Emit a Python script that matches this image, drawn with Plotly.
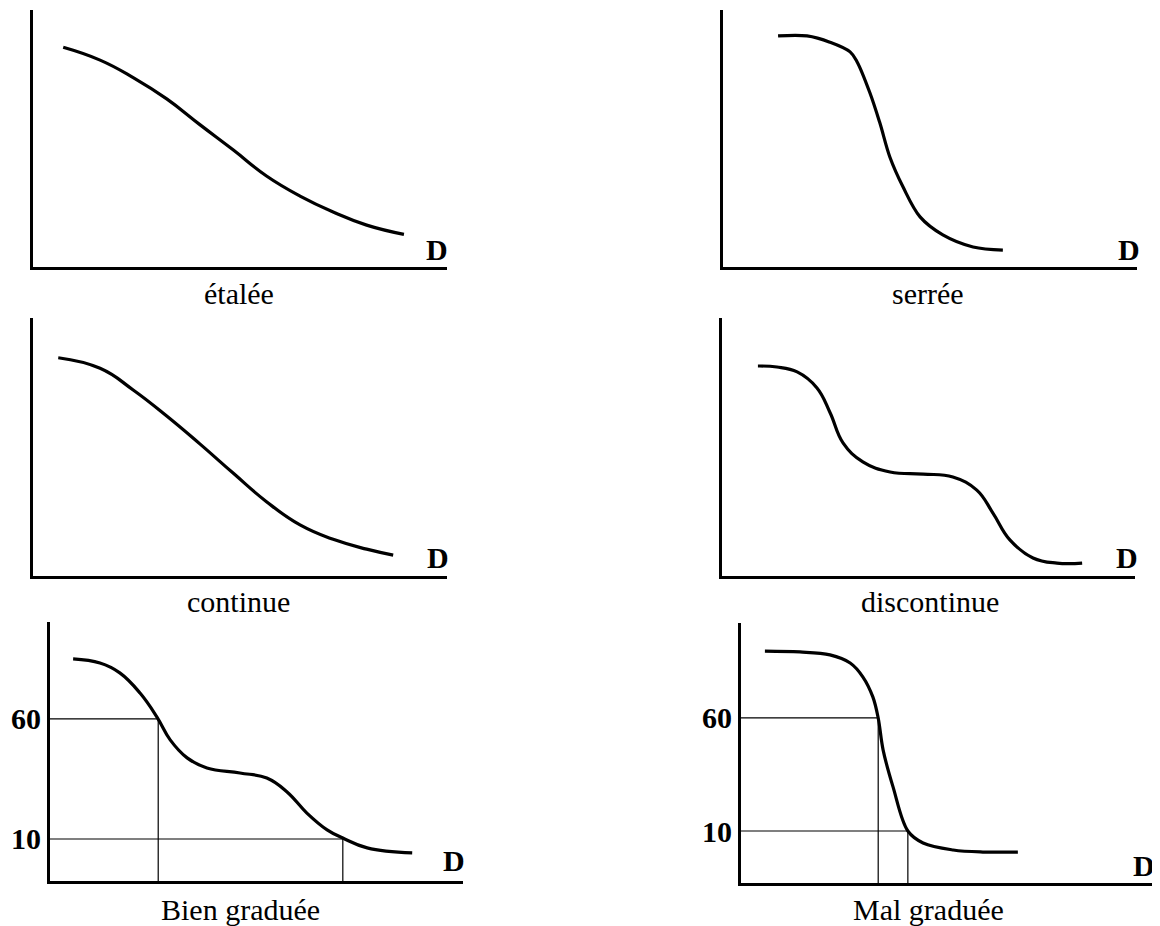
import plotly.graph_objects as go

W, H = 1160, 926
OFF = 8  # page body margin of the HTML page

# ---------------- data ----------------
# x: diameter D (arbitrary units 0..100 along the axis), y: % passing
etalee_x = [7.3, 16.2, 24.2, 32.3, 40.3, 48.4, 56.4, 64.5, 72.5, 80.6, 89.6]
etalee_y = [85.5, 80.5, 73.7, 65.4, 55.4, 45.5, 35.4, 27.6, 21.4, 16.3, 12.7]

serree_x = [13.3, 20.3, 25.8, 30.7, 32.4, 35.5, 37.9, 40.3, 43.5, 47.6, 53.1, 60.4, 67.6]
serree_y = [89.9, 89.9, 87.5, 83.7, 79.8, 67.7, 56.0, 42.8, 31.1, 19.5, 12.5, 7.8, 6.6]

continue_x = [6.1, 16.2, 24.2, 32.3, 40.3, 48.4, 56.4, 64.5, 72.5, 80.6, 87.0]
continue_y = [84.6, 80.5, 72.1, 62.0, 51.2, 39.8, 28.8, 19.8, 14.2, 10.4, 8.1]

discont_x = [8.7, 13.3, 18.2, 23.0, 26.2, 29.3, 34.1, 40.7, 48.7, 55.9, 61.7, 65.6, 69.7, 75.3, 81.1, 87.2]
discont_y = [81.4, 81.0, 79.1, 72.9, 63.2, 51.6, 44.2, 40.3, 39.5, 38.4, 33.3, 24.4, 14.0, 7.0, 5.0, 5.0]

bien_x = [5.6, 12.1, 16.9, 21.8, 25.9, 29.1, 33.2, 38.0, 46.0, 52.5, 57.4, 62.2, 67.1, 70.9, 76.8, 87.7]
bien_y = [85.0, 83.3, 79.2, 70.8, 60.8, 51.3, 43.8, 39.6, 37.5, 35.4, 29.6, 20.8, 13.8, 10.4, 6.3, 4.2]
bien_d60, bien_d10 = 26.2, 70.9

mal_x = [5.8, 14.3, 21.6, 26.5, 29.6, 32.0, 33.3, 34.5, 36.9, 40.5, 44.2, 51.5, 58.7, 67.2]
mal_y = [89.6, 89.2, 87.9, 84.3, 78.1, 69.3, 60.0, 45.8, 29.5, 10.0, 4.7, 1.6, 0.7, 0.7]
mal_d60, mal_d10 = 33.3, 40.5

tick_vals = [10, 60]
tick_text = ["10", "60"]

titles = ["étalée", "serrée", "continue", "discontinue", "Bien graduée", "Mal graduée"]
axis_label = "D"

# ---------------- layout helpers ----------------
# pixel boxes of each panel: (x_left, x_right, y_top, y_bottom)
boxes = [
    (33, 447, 10, 267),
    (723, 1137, 10, 267),
    (33, 447, 318, 576),
    (722, 1135, 318, 576),
    (50, 463, 622, 881),
    (741, 1153, 623, 883),
]
yranges = [[0, 100], [0, 100], [0, 100], [0, 100], [-7.5, 100.4], [-13.0, 102.0]]
smooth = [1.3, 1.0, 1.3, 1.2, 1.2, 1.0]
title_pos = [(239, 293), (928, 294), (238, 601), (930, 601), (240, 909), (928, 909)]
d_pos = [(437, 249), (1129, 249), (438, 557), (1127, 557), (454, 860), (1144, 865)]


def px(x):
    return (x - OFF) / W


def py(y):
    return 1 - (y - OFF) / H


curves = [
    (etalee_x, etalee_y),
    (serree_x, serree_y),
    (continue_x, continue_y),
    (discont_x, discont_y),
    (bien_x, bien_y),
    (mal_x, mal_y),
]

fig = go.Figure()
layout = dict(
    width=W, height=H, autosize=False,
    margin=dict(l=0, r=0, t=0, b=0),
    paper_bgcolor="white", plot_bgcolor="white",
    showlegend=False,
    annotations=[],
)

serif = "Liberation Serif, Times New Roman, serif"

for i, ((cx, cy), box, yr) in enumerate(zip(curves, boxes, yranges)):
    n = i + 1
    xa = "x" if n == 1 else f"x{n}"
    ya = "y" if n == 1 else f"y{n}"
    xl, xr, yt, yb = box
    has_ticks = i >= 4
    layout["xaxis" if n == 1 else f"xaxis{n}"] = dict(
        domain=[px(xl), px(xr)], range=[0, 100], anchor=ya,
        showline=True, linewidth=3, linecolor="black",
        showgrid=False, zeroline=False, showticklabels=False, ticks="",
        fixedrange=True,
    )
    yaxis = dict(
        domain=[py(yb), py(yt)], range=yr, anchor=xa,
        showline=True, linewidth=3, linecolor="black",
        showgrid=False, zeroline=False, ticks="",
        showticklabels=has_ticks, fixedrange=True,
    )
    if has_ticks:
        yaxis.update(tickvals=tick_vals, ticktext=[f"<b>{t}</b>" for t in tick_text],
                     tickfont=dict(family=serif, size=30, color="black"),
                     ticklabelstandoff=0)
    layout["yaxis" if n == 1 else f"yaxis{n}"] = yaxis

    # helper lines for D60 / D10
    if has_ticks:
        d60, d10 = (bien_d60, bien_d10) if i == 4 else (mal_d60, mal_d10)
        ymin = yr[0]
        for d, lvl in ((d60, 60), (d10, 10)):
            fig.add_trace(go.Scatter(
                x=[0, d, d], y=[lvl, lvl, ymin], mode="lines",
                line=dict(color="black", width=1.2),
                xaxis=xa, yaxis=ya, hoverinfo="skip", cliponaxis=False,
            ))

    fig.add_trace(go.Scatter(
        x=cx, y=cy, mode="lines",
        line=dict(color="black", width=3.2, shape="spline", smoothing=smooth[i]),
        xaxis=xa, yaxis=ya, hoverinfo="skip",
    ))

    tx, ty = title_pos[i]
    layout["annotations"].append(dict(
        text=titles[i], x=px(tx), y=py(ty), xref="paper", yref="paper",
        xanchor="center", yanchor="middle", showarrow=False,
        font=dict(family=serif, size=30, color="black"),
    ))
    dx, dy = d_pos[i]
    layout["annotations"].append(dict(
        text=f"<b>{axis_label}</b>", x=px(dx), y=py(dy), xref="paper", yref="paper",
        xanchor="center", yanchor="middle", showarrow=False,
        font=dict(family=serif, size=30, color="black"),
    ))

fig.update_layout(**layout)
fig.write_html("out.html")
